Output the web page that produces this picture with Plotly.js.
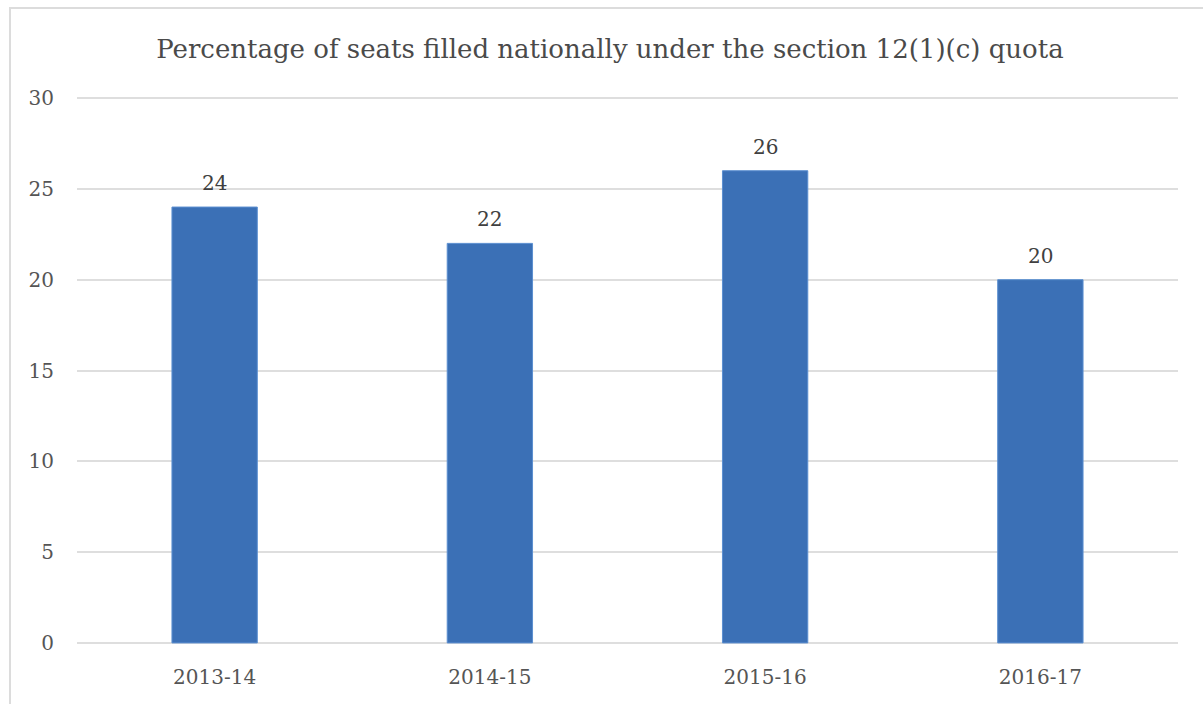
<!DOCTYPE html>
<html><head><meta charset="utf-8">
<script src="https://cdn.plot.ly/plotly-3.0.1.min.js"></script>
<style>
html,body{margin:0;padding:0;background:#fff;}
#chart{position:absolute;left:0;top:0;width:1203px;height:704px;}
#frame{position:absolute;left:9px;top:7px;width:1200px;height:710px;border-top:2px solid #dcdcdc;border-left:2px solid #dcdcdc;pointer-events:none;}
</style></head>
<body>
<div id="chart"></div>
<div id="frame"></div>
<script>
const categories = ["2013-14","2014-15","2015-16","2016-17"];
const values = [24,22,26,20];
const yTicks = [0,5,10,15,20,25,30];
const titleText = "Percentage of seats filled nationally under the section 12(1)(c) quota";

const FONT = "DejaVu Serif, serif";
const trace = {
  type: "bar",
  x: categories,
  y: values,
  marker: {color: "#3b70b6", line: {color: "#5b8fd0", width: 1}},
  hoverinfo: "x+y"
};
const annotations = categories.map((c,i)=>({
  x: c, y: values[i], xref: "x", yref: "y",
  text: String(values[i]), showarrow: false,
  yanchor: "bottom", yshift: 10,
  font: {family: FONT, size: 20, color: "#404040"}
}));
const layout = {
  width: 1203, height: 704,
  margin: {l: 77, r: 25, t: 97, b: 60},
  paper_bgcolor: "#ffffff", plot_bgcolor: "#ffffff",
  title: {text: titleText, x: 0.507, xanchor: "center", y: 0.93, yanchor: "middle",
          font: {family: FONT, size: 26, color: "#4a4a4a"}},
  bargap: 0.69,
  showlegend: false,
  xaxis: {type: "category", tickfont: {family: FONT, size: 20, color: "#555555"},
          showgrid: false, zeroline: false, showline: false, ticks: "", ticklabelstandoff: 19},
  yaxis: {range: [-0.06, 30.06], tickvals: yTicks, ticktext: yTicks.map(String),
          tickfont: {family: FONT, size: 20, color: "#555555"},
          showgrid: true, gridcolor: "#dedede", gridwidth: 2, zeroline: false,
          showline: false, ticks: "", ticklabelstandoff: 22},
  annotations: annotations
};
Plotly.newPlot("chart", [trace], layout, {displayModeBar: false, staticPlot: true});
</script>
</body></html>
